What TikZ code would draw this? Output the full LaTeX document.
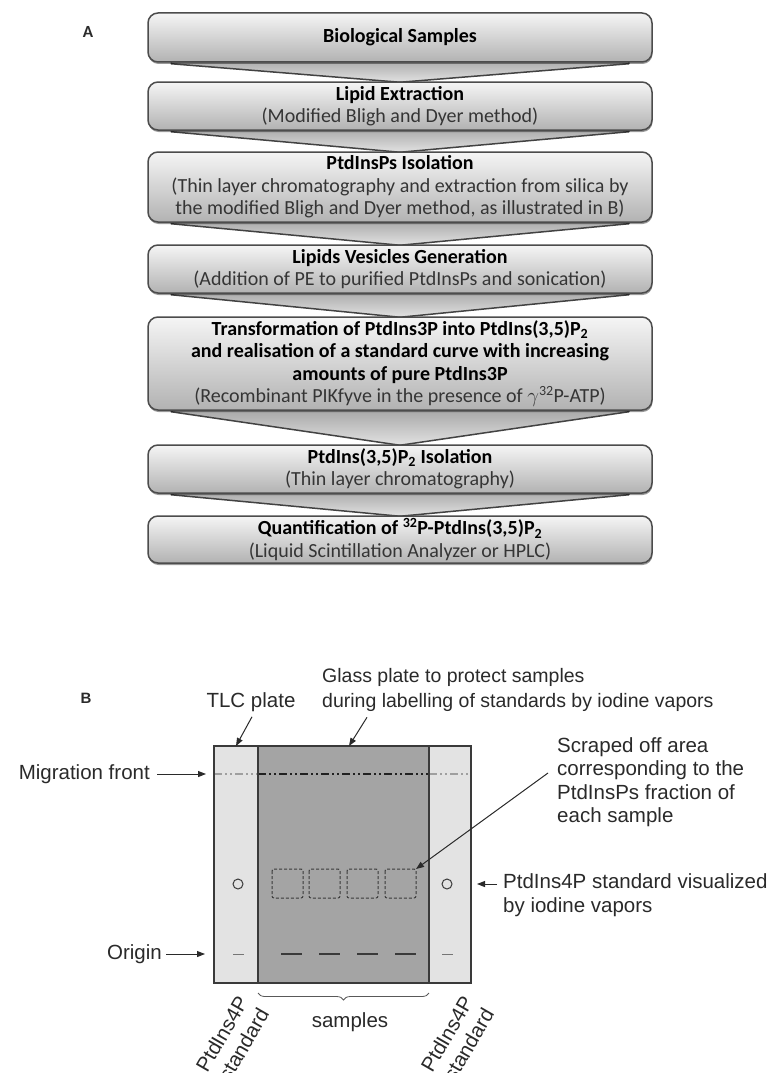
\documentclass[tikz,border=0pt]{standalone}
\usepackage{fontspec}
\setmainfont{Carlito}
\newfontfamily\arialf{Liberation Sans}
\usetikzlibrary{calc,shadows,arrows.meta,decorations.pathreplacing,shadings}
\pgfdeclarelayer{bg}
\pgfsetlayers{bg,main}
\definecolor{boxline}{HTML}{4C4C4C}
\definecolor{boxtop}{HTML}{F5F5F5}
\definecolor{boxbot}{HTML}{B2B2B2}
\definecolor{chevline}{HTML}{424242}
\definecolor{chevtop}{HTML}{9C9C9C}
\definecolor{chevbot}{HTML}{E2E2E2}
\definecolor{stripcol}{HTML}{E3E3E3}
\definecolor{glasscol}{HTML}{A4A4A4}
\definecolor{plateline}{HTML}{3A3A3A}
\definecolor{txtgray}{HTML}{2A2A2A}
\definecolor{subtxt}{HTML}{353535}
\begin{document}
\begin{tikzpicture}[x=1pt,y=-1pt,
  flow/.style={draw=boxline, line width=1.5pt, rounded corners=10pt,
    top color=boxtop, bottom color=boxbot, minimum width=504pt, inner sep=0pt,
    align=center, font=\fontsize{20}{22.5}\selectfont, text=subtxt,
    drop shadow={shadow xshift=0.5pt, shadow yshift=-2pt, fill=black, opacity=0.4}},
  chev/.style={draw=chevline, line width=1.5pt, top color=chevtop, bottom color=chevbot, line join=round},
  lbl/.style={font=\arialf\fontsize{20.5}{24}\selectfont, inner sep=0pt, text=txtgray},
  arr/.style={draw=txtgray, line width=1pt, -{Triangle[length=8pt,width=6pt]}},
  plate/.style={draw=plateline, line width=1.3pt},
  spot/.style={draw=plateline, line width=1pt},
  scrape/.style={draw=plateline, line width=1pt, rounded corners=2pt, dash pattern=on 3pt off 2pt},
  originmark/.style={draw=plateline, line width=1.3pt},
  smallmark/.style={draw=plateline!70, line width=1pt},
]
\useasboundingbox (0,0) rectangle (768,1073);

% ---------------- Part A ----------------
\node[font=\bfseries\fontsize{17}{20}\selectfont, text=txtgray] (labA) at (88,32) {A};

\node[flow, minimum height=49pt] (b1) at (400,37.5) {\textcolor{black}{\textbf{Biological Samples}}};
\node[flow, minimum height=48pt] (b2) at (400,106) {\textcolor{black}{\textbf{Lipid Extraction}}\\(Modified Bligh and Dyer method)};
\node[flow, minimum height=70pt] (b3) at (400,187) {\textcolor{black}{\textbf{PtdInsPs Isolation}}\\(Thin layer chromatography and extraction from silica by\\the modified Bligh and Dyer method, as illustrated in B)};
\node[flow, minimum height=48pt] (b4) at (400,269) {\textcolor{black}{\textbf{Lipids Vesicles Generation}}\\(Addition of PE to purified PtdInsPs and sonication)};
\node[flow, minimum height=93pt] (b5) at (400,363.5) {\textcolor{black}{\textbf{Transformation of PtdIns3P into PtdIns(3,5)P\textsubscript{2}}}\\\textcolor{black}{\textbf{and realisation of a standard curve with increasing}}\\\textcolor{black}{\textbf{amounts of pure PtdIns3P}}\\(Recombinant PIKfyve in the presence of $\gamma$\textsuperscript{32}P-ATP)};
\node[flow, minimum height=48pt] (b6) at (400,469) {\textcolor{black}{\textbf{PtdIns(3,5)P\textsubscript{2} Isolation}}\\(Thin layer chromatography)};
\node[flow, minimum height=47pt] (b7) at (400,539.5) {\textcolor{black}{\textbf{Quantification of \textsuperscript{32}P-PtdIns(3,5)P\textsubscript{2}}}\\(Liquid Scintillation Analyzer or HPLC)};

\begin{pgfonlayer}{bg}
\fill[white] (0,0) rectangle (768,1073);
\foreach \a/\b in {b1/b2,b2/b3,b3/b4,b4/b5,b5/b6,b6/b7}{
  \path[chev] ([xshift=24pt,yshift=8pt]\a.south west) -- ([xshift=24pt,yshift=-1pt]\a.south west)
     -- ([yshift=-1pt]\b.north) -- ([xshift=-24pt,yshift=-1pt]\a.south east)
     -- ([xshift=-24pt,yshift=8pt]\a.south east) -- cycle;
}
\end{pgfonlayer}

% ---------------- Part B ----------------
\node[font=\arialf\bfseries\fontsize{15}{17}\selectfont, text=txtgray] (labB) at (86,698) {B};

% plate
\fill[stripcol] (214,746) rectangle (471,983);
\fill[glasscol] (258,746) rectangle (429,983);
\draw[draw=gray!75, line width=1.4pt, dash pattern=on 8pt off 3pt on 2pt off 3pt on 2pt off 3pt] (214,774) -- (258,774) (429,774) -- (471,774);
\draw[draw=gray!25!black, line width=1.6pt, dash pattern=on 8pt off 3pt on 2pt off 3pt on 2pt off 3pt] (258,774) -- (429,774);
\draw[plate] (258,746) -- (258,983) (429,746) -- (429,983);
\draw[plate] (214,746) rectangle (471,983);

% spots
\draw[spot] (238,884) circle[radius=5pt];
\draw[spot] (447,884) circle[radius=5pt];
\foreach \x in {272,309,347,385}{
  \draw[scrape] (\x,869) rectangle ++(31,29);
}
\draw[smallmark] (233,954) -- (244,954);
\draw[smallmark] (442,954) -- (453,954);
\foreach \x in {281,319,357,395}{
  \draw[originmark] (\x,954) -- ++(21,0);
}

% arrow targets
\coordinate (tlcpt) at (236,746);
\coordinate (glasspt) at (349,746);
\coordinate (mfpt) at (206,774);
\coordinate (orpt) at (205,954);
\coordinate (sqpt) at (416,869);
\coordinate (stdpt) at (477,884);

% labels
\node[lbl, anchor=east] (mf) at (150,774) {Migration front};
\draw[arr] ([xshift=7pt]mf.east) -- (mfpt);

\node[lbl, anchor=east] (org) at (162,954) {Origin};
\draw[arr] ([xshift=4pt]org.east) -- (orpt);

\node[lbl] (tlc) at (251,702) {TLC plate};
\draw[arr] ([xshift=1pt,yshift=-5pt]tlc.south) -- (tlcpt);

\node[lbl, align=left, anchor=west, font=\arialf\fontsize{19.5}{25}\selectfont] (glass) at (322,689.5) {Glass plate to protect samples\\during labelling of standards by iodine vapors};
\draw[arr] ($(glass.south west)+(45,6)$) -- (glasspt);

\node[lbl, align=left, anchor=west, font=\arialf\fontsize{20.5}{23.5}\selectfont] (scr) at (557,782) {Scraped off area\\corresponding to the\\PtdInsPs fraction of\\each sample};
\draw[arr] ($(scr.west)+(-9,-9)$) -- (sqpt);

\node[lbl, align=left, anchor=west] (std) at (503,895) {PtdIns4P standard visualized\\by iodine vapors};
\draw[arr] ($(std.west)+(-6,-11)$) -- (stdpt);

% brace and bottom labels
\draw[draw=gray!70!black, line width=0.8pt, decorate, decoration={brace, mirror, amplitude=7pt}] (258,993) -- (429,993);
\node[lbl] (smp) at (350,1022) {samples};
\node[lbl, rotate=60, anchor=north east, align=right] (ls1) at (236,994) {PtdIns4P\\standard};
\node[lbl, rotate=60, anchor=north east, align=right] (ls2) at (461,994) {PtdIns4P\\standard};
\end{tikzpicture}
\end{document}
